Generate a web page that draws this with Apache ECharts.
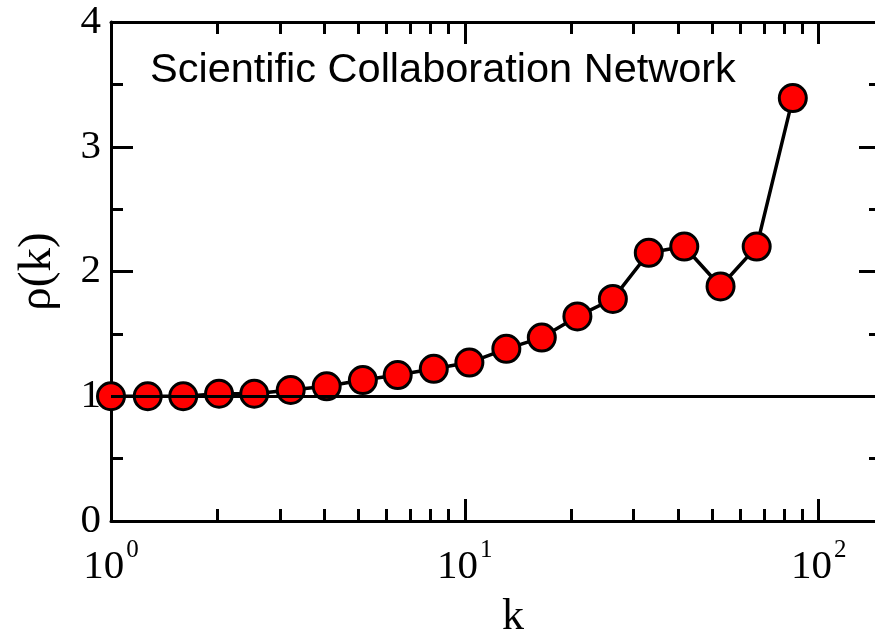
<!DOCTYPE html>
<html>
<head>
<meta charset="utf-8">
<script src="https://cdn.jsdelivr.net/npm/echarts@6/dist/echarts.min.js"></script>
<style>
  html, body { margin: 0; padding: 0; background: #fff; }
  #main { width: 875px; height: 637px; }
</style>
</head>
<body>
<div id="main"></div>
<script>
// degree k (log bins) and rho(k)
var kValues = [1.0, 1.27, 1.6, 2.02, 2.54, 3.22, 4.07, 5.15, 6.46, 8.17,
  10.3, 13.1, 16.5, 20.8, 26.2, 33.1, 41.7, 52.8, 66.8, 84.5];
var rhoValues = [1.0, 1.0, 1.0, 1.02, 1.02, 1.05, 1.08, 1.13, 1.17, 1.22,
  1.27, 1.38, 1.47, 1.64, 1.78, 2.15, 2.2, 1.88, 2.2, 3.39];
var xMajorTicks = [1, 10, 100];
var xMinorTicks = [2, 3, 4, 5, 6, 7, 8, 9, 20, 30, 40, 50, 60, 70, 80, 90];

var serif = "'Liberation Serif', 'DejaVu Serif', serif";
var sans = "'Liberation Sans', Arial, sans-serif";

var chart = echarts.init(document.getElementById("main"));

function xAxisDef(pos, ticks, len, showLine, showLabel) {
  return {
    type: "log",
    logBase: 10,
    position: pos,
    min: 1,
    max: 150,
    axisLine: { show: showLine, onZero: false, lineStyle: { color: "#000", width: 3 } },
    axisTick: { inside: true, length: len, customValues: ticks, lineStyle: { color: "#000", width: 3 } },
    axisLabel: {
      show: showLabel,
      customValues: ticks,
      margin: 17,
      formatter: function (v) {
        return "{b|10}{s|" + Math.round(Math.log10(v)) + "}";
      },
      rich: {
        b: { fontFamily: serif, fontSize: 41, color: "#000", verticalAlign: "bottom", lineHeight: 50 },
        s: { fontFamily: serif, fontSize: 25, color: "#000", verticalAlign: "top", lineHeight: 50, padding: [0, 0, 0, 2] }
      }
    },
    splitLine: { show: false },
    minorTick: { show: false }
  };
}

function yAxisDef(pos, showLabel) {
  return {
    type: "value",
    position: pos,
    min: 0,
    max: 4,
    interval: 1,
    axisLine: { show: true, lineStyle: { color: "#000", width: 3 } },
    axisTick: { inside: true, length: 22, lineStyle: { color: "#000", width: 3 } },
    minorTick: { show: true, splitNumber: 2, length: 12, lineStyle: { color: "#000", width: 3 } },
    axisLabel: { show: showLabel, fontFamily: serif, fontSize: 41, color: "#000", margin: 10 },
    splitLine: { show: false }
  };
}

var data = kValues.map(function (k, i) { return [k, rhoValues[i]]; });

var xBottom = xAxisDef("bottom", xMajorTicks, 22, true, true);
xBottom.name = "k";
xBottom.nameLocation = "middle";
xBottom.nameGap = 74;
xBottom.nameTextStyle = { fontFamily: serif, fontSize: 44, color: "#000", padding: [0, 0, 0, 34] };

var yLeft = yAxisDef("left", true);
yLeft.name = "ρ(k)";
yLeft.nameLocation = "middle";
yLeft.nameGap = 50;
yLeft.nameTextStyle = { fontFamily: serif, fontSize: 47, color: "#000" };

chart.setOption({
  animation: false,
  backgroundColor: "#fff",
  title: {
    text: "Scientific Collaboration Network",
    left: 150,
    top: 50,
    padding: 0,
    textStyle: { fontFamily: sans, fontSize: 41.5, fontWeight: "normal", color: "#000" }
  },
  grid: { left: 111, top: 22, right: -6, bottom: 116, containLabel: false, outerBoundsMode: "none" },
  xAxis: [
    xBottom,
    xAxisDef("bottom", xMinorTicks, 12, false, false),
    xAxisDef("top", xMajorTicks, 22, true, false),
    xAxisDef("top", xMinorTicks, 12, false, false)
  ],
  yAxis: [yLeft, yAxisDef("right", false)],
  series: [
    {
      type: "line",
      xAxisIndex: 0,
      yAxisIndex: 0,
      data: data,
      symbol: "circle",
      symbolSize: 27,
      itemStyle: { color: "#ff0000", borderColor: "#000", borderWidth: 3 },
      lineStyle: { color: "#000", width: 3.5 },
      markLine: {
        silent: true,
        symbol: "none",
        label: { show: false },
        lineStyle: { color: "#000", width: 3, type: "solid" },
        data: [{ yAxis: 1 }]
      },
      z: 3
    }
  ]
});
</script>
</body>
</html>
